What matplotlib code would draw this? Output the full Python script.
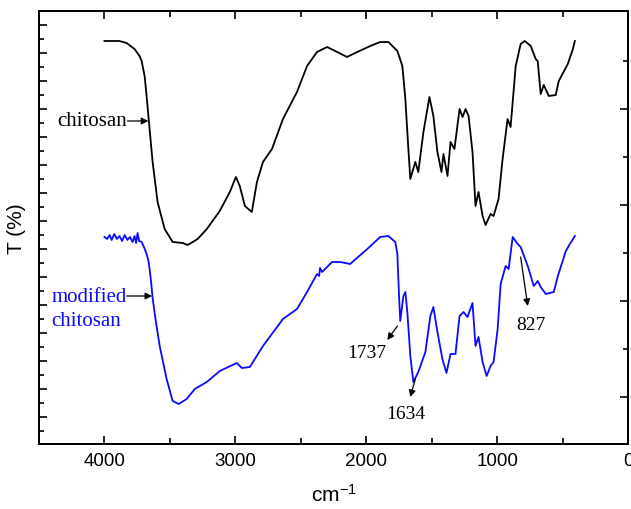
import matplotlib
matplotlib.use("Agg")
import matplotlib.pyplot as plt
from matplotlib.ticker import MultipleLocator, FixedLocator, NullFormatter

# 光譜資料 (讀圖估計)
wn_chitosan = [4000, 3885, 3831, 3770, 3732, 3716, 3693, 3678, 3655, 3632, 3594, 3540, 3479, 3402, 3364,
               3288, 3218, 3119, 3042, 2996, 2966, 2927, 2874, 2835, 2789, 2720, 2636, 2529, 2452, 2376,
               2299, 2222, 2146, 2069, 1969, 1893, 1831, 1762, 1724, 1701, 1678, 1663, 1625, 1602, 1563,
               1517, 1487, 1456, 1425, 1410, 1379, 1356, 1326, 1287, 1264, 1241, 1218, 1188, 1165, 1142,
               1111, 1088, 1050, 1027, 989, 958, 920, 897, 858, 820, 789, 743, 705, 690, 667,
               644, 605, 552, 529, 460, 421, 406]
t_chitosan = [403, 403, 401, 395, 388, 383, 368, 348, 315, 282, 242, 215, 202, 201, 199,
              205, 215, 233, 252, 267, 258, 238, 232, 262, 282, 295, 325, 352, 378, 392,
              397, 392, 387, 392, 398, 402, 402, 393, 378, 345, 295, 265, 282, 272, 312,
              347, 328, 292, 272, 290, 268, 302, 295, 335, 327, 335, 328, 292, 238, 252,
              228, 219, 230, 228, 245, 285, 325, 317, 378, 400, 403, 398, 385, 383, 350,
              359, 348, 349, 363, 380, 395, 403]

wn_modified = [4000, 3980, 3960, 3945, 3925, 3905, 3885, 3865, 3845, 3825, 3805, 3785, 3770, 3758, 3747,
               3735, 3716, 3695, 3678, 3665, 3655, 3642, 3632, 3610, 3578, 3525, 3479, 3433, 3372, 3310,
               3218, 3119, 2989, 2950, 2889, 2789, 2636, 2529, 2452, 2376, 2360, 2353, 2337, 2261, 2199,
               2123, 1992, 1893, 1831, 1778, 1762, 1750, 1740, 1716, 1701, 1686, 1663, 1640, 1602, 1548,
               1510, 1487, 1456, 1418, 1387, 1356, 1318, 1287, 1257, 1226, 1188, 1165, 1142, 1111, 1080,
               1050, 1027, 996, 973, 935, 912, 881, 843, 820, 766, 720, 690, 667, 628, 567,
               536, 475, 444, 406]
t_modified = [207, 205, 209, 204, 210, 205, 208, 203, 209, 204, 207, 202, 208, 201, 211,
              203, 202, 196, 190, 184, 175, 160, 146, 125, 98, 65, 43, 40, 45, 55,
              62, 73, 81, 76, 77, 98, 125, 135, 152, 170, 168, 176, 172, 182, 182,
              180, 195, 207, 208, 202, 190, 150, 123, 148, 152, 132, 88, 62, 72, 92,
              128, 137, 112, 85, 71, 90, 90, 128, 132, 127, 141, 98, 107, 82, 68,
              78, 82, 115, 160, 178, 175, 207, 200, 197, 178, 158, 163, 157, 150, 152,
              168, 193, 200, 208]

peak_labels = ["1737", "1634", "827"]
peak_text_pos = [(1992, 92), (1694, 30), (743, 120)]
peak_arrow_tail = [(1762, 118), (1625, 65), (820, 187)]
peak_arrow_head = [(1839, 104), (1663, 47), (766, 138)]

plt.rcParams["font.family"] = ["Liberation Sans", "DejaVu Sans"]
plt.rcParams["mathtext.fontset"] = "custom"
plt.rcParams["mathtext.rm"] = "Liberation Sans"
plt.rcParams["mathtext.it"] = "Liberation Sans"

fig = plt.figure(figsize=(6.31, 5.10), dpi=100)
ax = fig.add_axes([39 / 631, 1 - 445 / 510, (628 - 39) / 631, (445 - 12) / 510])

ax.plot(wn_chitosan, t_chitosan, color="black", lw=1.3)
ax.plot(wn_modified, t_modified, color="#0a0aff", lw=1.3)

ax.set_xlim(4500, 0)
ax.set_ylim(0, 433)

# 刻度
ax.xaxis.set_major_locator(MultipleLocator(1000))
ax.xaxis.set_minor_locator(MultipleLocator(500))
ax.yaxis.set_major_locator(FixedLocator([27 + 28 * i for i in range(15)]))
ax.yaxis.set_minor_locator(FixedLocator([13 + 28 * i for i in range(15)]))
ax.yaxis.set_major_formatter(NullFormatter())
ax.tick_params(axis="x", which="both", direction="in", top=True, labelsize=13.5, pad=6)
ax.tick_params(axis="x", which="major", length=6, width=1.2)
ax.tick_params(axis="x", which="minor", length=4, width=1.2)
ax.tick_params(axis="y", which="major", direction="in", length=6, width=1.2, right=False)
ax.tick_params(axis="y", which="minor", direction="in", length=3.5, width=1.2, right=False)

ax2 = ax.twinx()
ax2.set_ylim(ax.get_ylim())
ax2.yaxis.set_major_locator(FixedLocator([47 + 96 * i for i in range(4)]))
ax2.yaxis.set_minor_locator(FixedLocator([95 + 96 * i for i in range(4)]))
ax2.yaxis.set_major_formatter(NullFormatter())
ax2.tick_params(axis="y", which="major", direction="in", length=6, width=1.2)
ax2.tick_params(axis="y", which="minor", direction="in", length=3.5, width=1.2)

for a in (ax, ax2):
    for s in a.spines.values():
        s.set_linewidth(1.4)

ax.set_xlabel("cm$^{-1}$", fontsize=15, labelpad=10)
ax.set_ylabel("T (%)", fontsize=15, labelpad=6)

serif = ["Liberation Serif", "DejaVu Serif"]
arrow = dict(arrowstyle="-|>", color="black", lw=0.9, mutation_scale=10, shrinkA=0, shrinkB=0)

# 曲線標註
ax.text(3831, 323, "chitosan", family=serif, fontsize=15, ha="right", va="center", color="black")
ax.annotate("", xy=(3665, 323), xytext=(3824, 323), arrowprops=arrow)
ax.text(4406, 148, "modified", family=serif, fontsize=15, ha="left", va="center", color="#0a0aff")
ax.text(4406, 123, "chitosan", family=serif, fontsize=15, ha="left", va="center", color="#0a0aff")
ax.annotate("", xy=(3636, 148), xytext=(3831, 148), arrowprops=arrow)

for lab, tp, tail, head in zip(peak_labels, peak_text_pos, peak_arrow_tail, peak_arrow_head):
    ax.text(tp[0], tp[1], lab, family=serif, fontsize=14, ha="center", va="center")
    ax.annotate("", xy=head, xytext=tail, arrowprops=arrow)

fig.savefig("out.png", dpi=100)
